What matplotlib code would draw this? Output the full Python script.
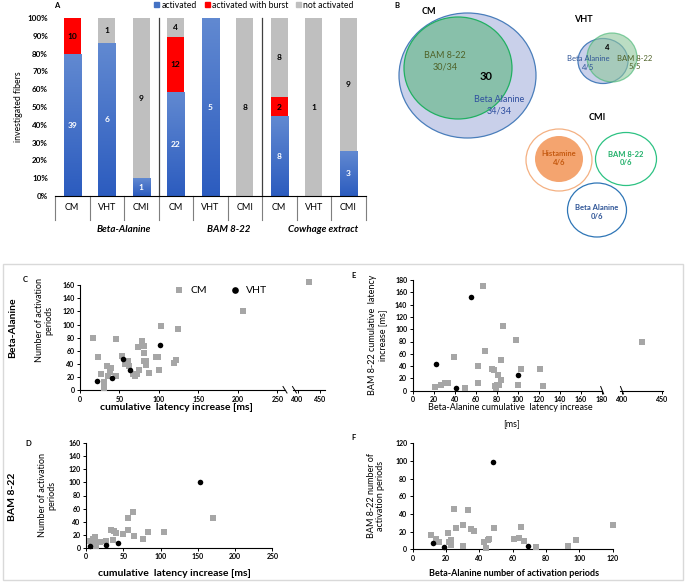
import numpy as np
import matplotlib
matplotlib.use('Agg')
import matplotlib.pyplot as plt
from matplotlib.patches import Ellipse, Rectangle, Patch
from matplotlib.colors import LinearSegmentedColormap
from matplotlib.lines import Line2D

plt.rcParams['font.family'] = ['Lato', 'DejaVu Sans']

W, H = 685, 583

# ---- panel A data (fiber counts)
categories = ['CM', 'VHT', 'CMI'] * 3
groups = ['Beta-Alanine', 'BAM 8-22', 'Cowhage extract']
activated = [39, 6, 1, 22, 5, 0, 8, 0, 3]
burst = [10, 0, 0, 12, 0, 0, 2, 0, 0]
not_activated = [0, 1, 9, 4, 0, 8, 8, 1, 9]

# ---- panel C: Beta-Alanine, latency vs activation periods
c_cm_x = [17, 23, 27, 31, 31, 34, 35, 39, 38, 46, 45, 53, 57, 61, 62, 67, 69, 72,
          75, 74, 78, 81, 81, 81, 84, 84, 87, 96, 99, 100, 103, 119, 121, 124, 206, 425]
c_cm_y = [80, 51, 24, 12, 3, 36, 22, 33, 28, 22, 78, 52, 40, 44, 36, 25, 21, 24,
          30, 66, 75, 68, 57, 45, 38, 44, 26, 50, 50, 30, 98, 42, 46, 93, 120, 165]
c_vht_x = [22, 40, 55, 63, 101]
c_vht_y = [13, 19, 48, 30, 69]

# ---- panel D: BAM 8-22
d_cm_x = [6, 9, 12, 10, 13, 14, 19, 27, 34, 37, 36, 40, 50, 56, 57, 63, 65, 77, 83, 105, 171]
d_cm_y = [11, 14, 17, 9, 7, 2, 8, 10, 27, 25, 12, 23, 21, 45, 27, 54, 18, 13, 24, 24, 46]
d_vht_x = [6, 27, 43, 153]
d_vht_y = [3, 4, 7, 100]

# ---- panel E: latency BA vs BAM
e_cm_x = [21, 27, 31, 34, 39, 50, 62, 62, 67, 69, 75, 77, 78, 79, 80, 81, 82, 84,
          84, 86, 98, 100, 103, 121, 124, 425]
e_cm_y = [6, 9, 12, 13, 54, 5, 40, 13, 171, 65, 36, 34, 7, 5, 9, 25, 9, 50,
          18, 105, 83, 9, 35, 36, 7, 80]
e_vht_x = [22, 41, 55, 100]
e_vht_y = [43, 5, 152, 26]

# ---- panel F: activation periods BA vs BAM
f_cm_x = [11, 14, 16, 21, 22, 23, 23, 25, 26, 30, 30, 33, 35, 37, 43, 44, 45, 46,
          49, 61, 64, 65, 67, 74, 93, 98, 120]
f_cm_y = [16, 12, 8, 18, 8, 11, 5, 46, 24, 27, 4, 45, 23, 21, 8, 1, 11, 12,
          24, 12, 13, 25, 9, 3, 4, 11, 27]
f_vht_x = [12, 19, 48, 69]
f_vht_y = [7, 3, 99, 4]


def box(x0, y0, x1, y1):
    # pixel box (top-left origin) -> figure rect
    return [x0 / W, 1 - y1 / H, (x1 - x0) / W, (y1 - y0) / H]


def ftext(x, y, s, **kw):
    kw.setdefault('ha', 'center')
    kw.setdefault('va', 'center')
    fig.text(x / W, 1 - y / H, s, **kw)


def fline(x0, y0, x1, y1, **kw):
    fig.add_artist(Line2D([x0 / W, x1 / W], [1 - y0 / H, 1 - y1 / H],
                          transform=fig.transFigure, **kw))


fig = plt.figure(figsize=(6.85, 5.83), dpi=100)

# ================= panel A =================
axA = fig.add_axes(box(55, 18, 365.5, 196))
x = np.arange(len(categories))
tot = np.array(activated) + np.array(burst) + np.array(not_activated)
p_act = np.array(activated) / tot
p_bur = np.array(burst) / tot
p_not = np.array(not_activated) / tot

bars_act = axA.bar(x, p_act, 0.5, color='#4472c4', zorder=2)
axA.bar(x, p_bur, 0.5, bottom=p_act, color='#ff0000', zorder=2)
axA.bar(x, p_not, 0.5, bottom=p_act + p_bur, color='#bfbfbf', zorder=2)

blue_cmap = LinearSegmentedColormap.from_list('bl', ['#2c5cbf', '#6189d1'])
grad = np.linspace(0, 1, 64).reshape(-1, 1)
for r in bars_act:
    if r.get_height() > 0:
        x0, w, h = r.get_x(), r.get_width(), r.get_height()
        axA.imshow(grad, cmap=blue_cmap, extent=(x0, x0 + w, 0, h),
                   origin='lower', aspect='auto', zorder=2.5)

for i in range(len(categories)):
    if activated[i]:
        axA.text(i, p_act[i] / 2, str(activated[i]), color='white', ha='center',
                 va='center', fontsize=6, fontweight='bold', zorder=3)
    if burst[i]:
        axA.text(i, p_act[i] + p_bur[i] / 2, str(burst[i]), color='black', ha='center',
                 va='center', fontsize=6, fontweight='bold', zorder=3)
    if not_activated[i]:
        axA.text(i, p_act[i] + p_bur[i] + p_not[i] / 2, str(not_activated[i]),
                 color='black', ha='center', va='center', fontsize=6,
                 fontweight='bold', zorder=3)

axA.set_xlim(-0.5, 8.5)
axA.set_ylim(0, 1)
axA.set_yticks(np.arange(0, 1.01, 0.1))
axA.set_yticklabels([f'{int(round(v * 100))}%' for v in np.arange(0, 1.01, 0.1)],
                    fontsize=5.8, fontweight='bold')
axA.tick_params(axis='y', length=0, pad=5)
axA.set_xticks([])
for s in ['left', 'right', 'top']:
    axA.spines[s].set_visible(False)
axA.spines['bottom'].set_linewidth(0.8)
axA.set_ylabel('investigated fibers', fontsize=6.3, labelpad=3)

xt = axA.get_xaxis_transform()
for b in np.arange(-0.5, 9, 1):
    axA.plot([b, b], [0, -0.135], color='#7f7f7f', lw=0.8, transform=xt, clip_on=False)
for b in [2.5, 5.5]:
    axA.plot([b, b], [0, 1], color='#404040', lw=0.9, transform=xt, clip_on=False, zorder=1)
for i, c in enumerate(categories):
    axA.text(i, -0.062, c, transform=xt, ha='center', va='center', fontsize=6.5)

for g, px in zip(groups, [124, 229, 323]):
    ftext(px, 230, g, fontsize=7, fontweight='bold', style='italic')

fig.legend(handles=[Patch(color='#4472c4'), Patch(color='#ff0000'), Patch(color='#bfbfbf')],
           labels=['activated', 'activated with burst', 'not activated'],
           ncol=3, loc='center', bbox_to_anchor=(254 / W, 1 - 5 / H), frameon=False,
           fontsize=6.2, handlelength=0.6, handleheight=0.6, handletextpad=0.25,
           columnspacing=0.9, borderpad=0)
ftext(57, 5, 'A', fontsize=5.5, fontweight='bold')

# ================= panel B (venn) =================
axB = fig.add_axes(box(340, 0, 685, 260))
axB.set_xlim(340, 685)
axB.set_ylim(260, 0)
axB.axis('off')

axB.add_patch(Ellipse((467.5, 75.5), 137, 125, facecolor='#c9d0ea', edgecolor='#4a7ebb', lw=0.9))
axB.add_patch(Ellipse((458, 68), 108, 102, facecolor='#88c0aa', edgecolor='#21b062', lw=0.9))
axB.text(445, 61, 'BAM 8-22\n30/34', color='#4f6228', ha='center', va='center', fontsize=6.5, linespacing=1.4)
axB.text(486, 76, '30', color='black', ha='center', va='center', fontsize=8, fontweight='bold')
axB.text(499, 105, 'Beta Alanine\n34/34', color='#2f4f9f', ha='center', va='center', fontsize=6.5, linespacing=1.4)
axB.text(429, 11, 'CM', ha='center', va='center', fontsize=6.5, fontweight='bold')

axB.add_patch(Ellipse((603, 61), 50, 45, facecolor='#c9d0ea', edgecolor='#4a7ebb', lw=0.9))
axB.add_patch(Ellipse((612, 57.5), 50, 49, facecolor='#8fc79c', edgecolor='#3cb46e', lw=0.9, alpha=0.6))
axB.text(607, 48, '4', ha='center', va='center', fontsize=5.5, fontweight='bold')
axB.text(588, 63, 'Beta Alanine\n4/5', color='#2f5597', ha='center', va='center', fontsize=5.5, linespacing=1.3)
axB.text(635, 62.5, 'BAM 8-22\n5/5', color='#4f6228', ha='center', va='center', fontsize=5.5, linespacing=1.3)
axB.text(583, 19, 'VHT', ha='center', va='center', fontsize=6.5, fontweight='bold')

axB.text(597, 117, 'CMI', ha='center', va='center', fontsize=6.5, fontweight='bold')
axB.add_patch(Ellipse((559, 160), 66, 62, facecolor='none', edgecolor='#f4b183', lw=0.9))
axB.add_patch(Ellipse((559, 159), 48, 46, facecolor='#f4a46f', edgecolor='none'))
axB.text(559, 158, 'Histamine\n4/6', color='#c55a11', ha='center', va='center', fontsize=5.5, fontweight='bold', linespacing=1.3)
axB.add_patch(Ellipse((626, 159), 61, 53, facecolor='none', edgecolor='#2dc283', lw=0.9))
axB.text(626, 158.5, 'BAM 8-22\n0/6', color='#22b06a', ha='center', va='center', fontsize=5.5, fontweight='bold', linespacing=1.3)
axB.add_patch(Ellipse((597, 210), 59, 54, facecolor='none', edgecolor='#2e75b6', lw=0.9))
axB.text(597, 212, 'Beta Alanine\n0/6', color='#2f5597', ha='center', va='center', fontsize=5.5, fontweight='bold', linespacing=1.3)
ftext(397, 5, 'B', fontsize=5.5, fontweight='bold')

# ================= scatter panels =================
fig.add_artist(Rectangle((3 / W, 1 - 580 / H), 680 / W, 316 / H, fill=False,
                         edgecolor='#d9d9d9', lw=1, transform=fig.transFigure))


def style(ax, xticks, yticks, show_y=True):
    for s in ['right', 'top']:
        ax.spines[s].set_visible(False)
    ax.spines['bottom'].set_linewidth(0.8)
    ax.spines['left'].set_linewidth(0.8)
    ax.set_xticks(xticks)
    ax.set_yticks(yticks)
    ax.tick_params(direction='out', length=2.5, width=0.7, pad=1.5, labelsize=5)
    for lab in ax.get_xticklabels() + ax.get_yticklabels():
        lab.set_fontweight('bold')
    if not show_y:
        ax.spines['left'].set_visible(False)
        ax.set_yticks([])
    ax.patch.set_alpha(0)


def keep(xs, ys, lo, hi):
    sel = [(a, b) for a, b in zip(xs, ys) if lo <= a <= hi]
    if not sel:
        return [], []
    return [s[0] for s in sel], [s[1] for s in sel]


def pts(ax, cx, cy, vx, vy, lo=-1, hi=1e9):
    # only the points that belong to this (part of a broken) axis, drawn unclipped
    cx, cy = keep(cx, cy, lo, hi)
    vx, vy = keep(vx, vy, lo, hi)
    a = ax.scatter(cx, cy, marker='s', s=13, color='#a6a6a6', linewidths=0,
                   label='CM', clip_on=False, zorder=3)
    b = ax.scatter(vx, vy, marker='o', s=16, color='black', linewidths=0,
                   label='VHT', clip_on=False, zorder=3)
    return a, b


# C
axC = fig.add_axes(box(80, 285.3, 285, 390))
h1, h2 = pts(axC, c_cm_x, c_cm_y, c_vht_x, c_vht_y, hi=260)
axC.set_xlim(0, 259.5)
axC.set_ylim(0, 160)
style(axC, [0, 50, 100, 150, 200, 250], range(0, 161, 20))
axC2 = fig.add_axes(box(293, 285.3, 325, 390))
pts(axC2, c_cm_x, c_cm_y, c_vht_x, c_vht_y, lo=390)
axC2.set_xlim(390, 461)
axC2.set_ylim(0, 160)
style(axC2, [400, 450], [], show_y=False)
fig.legend(handles=[h1, h2], labels=['CM', 'VHT'], ncol=2, loc='center',
           bbox_to_anchor=(218 / W, 1 - 290 / H), frameon=False, fontsize=7.5,
           handletextpad=0.1, columnspacing=1.6, markerscale=1.2, borderpad=0)
fline(283, 386.5, 287, 393, color='black', lw=0.7)
fline(292.5, 386.5, 296.5, 393, color='black', lw=0.7)
ftext(25, 279, 'C', fontsize=5.5, fontweight='bold')
ftext(44, 320, 'Number of activation\nperiods', rotation=90, fontsize=6.5, linespacing=1.1)
ftext(13, 328, 'Beta-Alanine', rotation=90, fontsize=7.5, fontweight='bold')
ftext(176, 407, 'cumulative  latency increase [ms]', fontsize=7.5, fontweight='bold')

# D
axD = fig.add_axes(box(86, 443.3, 272.3, 547.7))
pts(axD, d_cm_x, d_cm_y, d_vht_x, d_vht_y)
axD.set_xlim(0, 250)
axD.set_ylim(0, 160)
style(axD, [0, 50, 100, 150, 200, 250], range(0, 161, 20))
ftext(28, 443, 'D', fontsize=5.5, fontweight='bold')
ftext(47, 495, 'Number of activation\nperiods', rotation=90, fontsize=6.5, linespacing=1.1)
ftext(13, 497, 'BAM 8-22', rotation=90, fontsize=7.5, fontweight='bold')
ftext(174, 573, 'cumulative  latency increase [ms]', fontsize=7.5, fontweight='bold')

# E
axE = fig.add_axes(box(412.7, 280, 602, 390.7))
pts(axE, e_cm_x, e_cm_y, e_vht_x, e_vht_y, hi=180)
axE.set_xlim(0, 180)
axE.set_ylim(0, 180)
style(axE, range(0, 181, 20), range(0, 181, 20))
axE2 = fig.add_axes(box(620, 280, 663.3, 390.7))
pts(axE2, e_cm_x, e_cm_y, e_vht_x, e_vht_y, lo=397)
axE2.set_xlim(397.9, 452)
axE2.set_ylim(0, 180)
style(axE2, [400, 450], [], show_y=False)
fline(600.7, 386.5, 603.7, 394, color='black', lw=0.7)
fline(620.5, 386.5, 623.5, 394, color='black', lw=0.7)
ftext(354, 275, 'E', fontsize=5.5, fontweight='bold')
ftext(377.5, 335, 'BAM 8-22 cumulative  latency\nincrease [ms]', rotation=90, fontsize=6.5, linespacing=1.1)
ftext(510, 407, 'Beta-Alanine cumulative  latency increase', fontsize=6.5)
ftext(512, 425, '[ms]', fontsize=6.5)

# F
axF = fig.add_axes(box(412.7, 443.3, 612.7, 549.3))
pts(axF, f_cm_x, f_cm_y, f_vht_x, f_vht_y)
axF.set_xlim(0, 120)
axF.set_ylim(0, 120)
style(axF, range(0, 121, 20), range(0, 121, 20))
ftext(354, 438, 'F', fontsize=5.5, fontweight='bold')
ftext(376, 496, 'BAM 8-22 number of\nactivation periods', rotation=90, fontsize=6.5, linespacing=1.1)
ftext(514, 573, 'Beta-Alanine number of activation periods', fontsize=6.5, fontweight='bold')

fig.savefig('out.png', dpi=100)
